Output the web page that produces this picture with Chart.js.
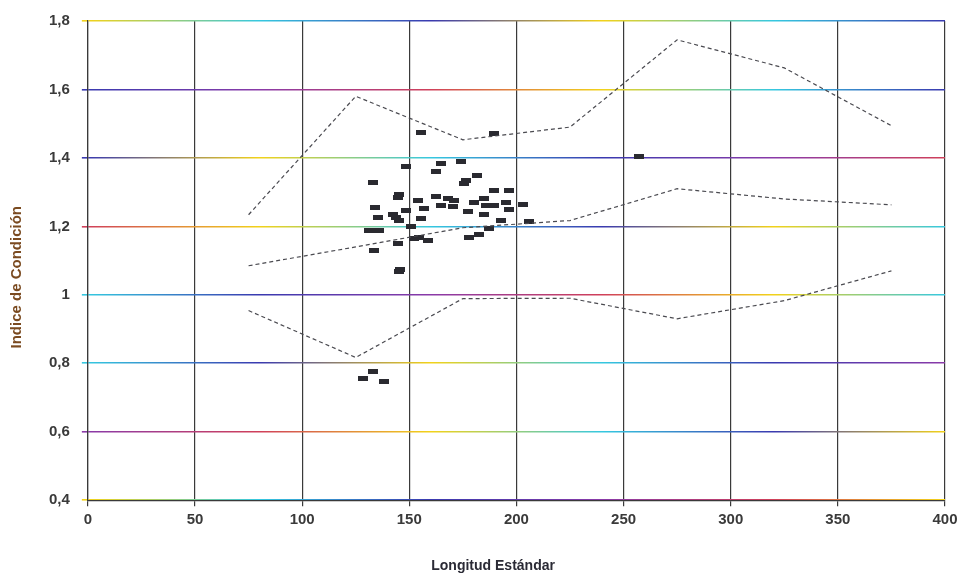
<!DOCTYPE html>
<html>
<head>
<meta charset="utf-8">
<script src="https://cdn.jsdelivr.net/npm/chart.js@4.4.1/dist/chart.umd.min.js"></script>
<style>
  html, body { margin: 0; padding: 0; background: #fff; }
  #wrap { width: 967px; height: 581px; }
</style>
</head>
<body>
<div id="wrap"><canvas id="grafico"></canvas></div>
<script>
// longitudes de las curvas de referencia
const longitudes = [75, 125, 175, 225, 275, 325, 375];
const curvaSuperior = [1.234, 1.58, 1.453, 1.49, 1.745, 1.663, 1.494];
const curvaMedia = [1.085, 1.14, 1.196, 1.217, 1.31, 1.28, 1.263];
const curvaInferior = [0.954, 0.817, 0.989, 0.99, 0.93, 0.983, 1.07];

// muestras observadas (longitud, indice)
const muestraX = [155.5, 189.5, 148.5, 164.8, 162.5, 174, 181.6, 176.5, 175.5, 133,
  189.5, 196.5, 145, 144.8, 162.5, 168, 171, 154, 164.8, 170.5,
  157, 180, 185, 185.8, 189.5, 195, 196.5, 203, 177.5, 185,
  134, 135.5, 142.5, 144, 145, 148.5, 155.5, 193, 206, 151,
  131, 136, 187, 182.5, 178, 152, 154.6, 144.8, 158.8, 133.6,
  145.7, 145, 133, 128.5, 138, 257];
const muestraY = [1.473, 1.47, 1.374, 1.383, 1.36, 1.39, 1.35, 1.333, 1.325, 1.327,
  1.304, 1.304, 1.292, 1.284, 1.287, 1.28, 1.275, 1.275, 1.26, 1.258,
  1.252, 1.27, 1.28, 1.26, 1.26, 1.27, 1.25, 1.263, 1.243, 1.234,
  1.254, 1.225, 1.234, 1.225, 1.217, 1.246, 1.222, 1.217, 1.214, 1.2,
  1.187, 1.187, 1.193, 1.176, 1.167, 1.164, 1.167, 1.15, 1.158, 1.13,
  1.074, 1.068, 0.776, 0.756, 0.747, 1.403];

const ticksY = [0.4, 0.6, 0.8, 1, 1.2, 1.4, 1.6, 1.8];

function serie(xs, ys) {
  return xs.map(function (x, i) { return { x: x, y: ys[i] }; });
}

// marca rectangular de los puntos
const marca = document.createElement("canvas");
marca.width = 10;
marca.height = 5;
const mctx = marca.getContext("2d");
mctx.fillStyle = "#2a2a30";
mctx.fillRect(0, 0, 10, 5);

// lineas horizontales con colores del escaneo
const tonos = ["#f2d21a", "#36c8e0", "#3a3ab0", "#8a3aa8", "#d0405a", "#f2d21a", "#36c8e0", "#3a3ab0"];
function colorRejilla(ctx) {
  const area = ctx.chart.chartArea;
  if (!area) return "#4040a0";
  const g = ctx.chart.ctx.createLinearGradient(area.left, 0, area.right, 0);
  const k = ctx.index || 0;
  for (let i = 0; i < 6; i++) {
    g.addColorStop(i / 5, tonos[(i + k * 3) % tonos.length]);
  }
  return g;
}

const lineaBase = {
  type: "line",
  borderColor: "#4a4a50",
  borderWidth: 1.2,
  borderDash: [4, 3],
  pointRadius: 0,
  fill: false,
  tension: 0,
};

const fuenteEje = { family: "Liberation Sans", size: 15, weight: "bold" };

new Chart(document.getElementById("grafico"), {
  type: "scatter",
  data: {
    datasets: [
      Object.assign({ label: "Superior", data: serie(longitudes, curvaSuperior) }, lineaBase),
      Object.assign({ label: "Media", data: serie(longitudes, curvaMedia) }, lineaBase),
      Object.assign({ label: "Inferior", data: serie(longitudes, curvaInferior) }, lineaBase),
      {
        label: "Muestras",
        data: serie(muestraX, muestraY),
        pointStyle: marca,
        pointRadius: 5,
      },
    ],
  },
  options: {
    responsive: true,
    maintainAspectRatio: false,
    animation: false,
    layout: { padding: { top: 6, right: 22, left: 4, bottom: 2 } },
    plugins: {
      legend: { display: false },
      tooltip: { enabled: false },
    },
    scales: {
      x: {
        type: "linear",
        min: 0,
        max: 400,
        ticks: {
          stepSize: 50,
          color: "#3a3a3a",
          font: fuenteEje,
          padding: 5,
        },
        grid: {
          color: "#3a3a3a",
          lineWidth: 1.2,
          tickLength: 6,
        },
        border: { color: "#3a3a3a", width: 1.2 },
        title: {
          display: true,
          text: "Longitud Estándar            ",
          color: "#2a2a35",
          font: { family: "Liberation Sans", size: 14, weight: "bold" },
          padding: { top: 24 },
        },
      },
      y: {
        min: 0.4,
        max: 1.8,
        afterBuildTicks: function (axis) {
          axis.ticks = ticksY.map(function (v) { return { value: v }; });
        },
        ticks: {
          color: "#3a3a3a",
          font: fuenteEje,
          padding: 12,
          callback: function (v) { return String(Math.round(v * 10) / 10).replace(".", ","); },
        },
        grid: {
          color: colorRejilla,
          lineWidth: 1.6,
          tickLength: 6,
        },
        border: { color: "#3a3a3a", width: 1.2 },
        title: {
          display: true,
          text: "Indice de Condición        ",
          color: "#7a4a20",
          font: { family: "Liberation Sans", size: 15, weight: "bold" },
          padding: { bottom: 11 },
        },
      },
    },
  },
});
</script>
</body>
</html>
